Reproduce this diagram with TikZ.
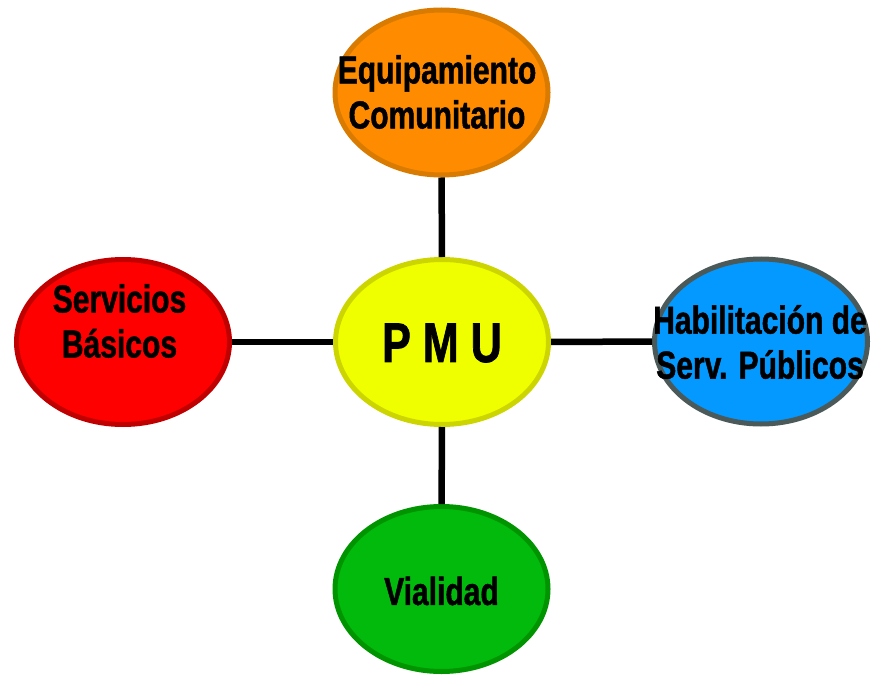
\documentclass[tikz,border=0pt]{standalone}
\usepackage{fontspec}
\setmainfont{Liberation Sans}[FakeStretch=0.77, BoldFeatures={FakeBold=1.2}]
\usetikzlibrary{shapes.geometric}
\definecolor{orfill}{HTML}{FF8C00}
\definecolor{ordraw}{HTML}{D97B00}
\definecolor{rdfill}{HTML}{FF0000}
\definecolor{rddraw}{HTML}{C00000}
\definecolor{blfill}{HTML}{0399FE}
\definecolor{bldraw}{HTML}{4B5959}
\definecolor{gnfill}{HTML}{02BA0C}
\definecolor{gndraw}{HTML}{009500}
\definecolor{ylfill}{HTML}{F0FF00}
\definecolor{yldraw}{HTML}{CCD500}
\tikzset{
  bubble/.style={ellipse, line width=5pt, minimum width=213pt, minimum height=165pt, inner sep=0pt},
  lbl/.style={font=\bfseries\fontsize{39}{45}\selectfont, align=center, inner sep=0pt},
  conn/.style={line width=6.5pt, black}
}
\begin{document}
\begin{tikzpicture}[x=1pt,y=-1pt]
\useasboundingbox (0,0) rectangle (877,676);
\node[bubble, fill=orfill, draw=ordraw] (eq) at (441.5,92.5) {};
\node[bubble, fill=rdfill, draw=rddraw] (sb) at (123,342) {};
\node[bubble, fill=ylfill, draw=yldraw] (pmu) at (442,342) {};
\node[bubble, fill=blfill, draw=bldraw] (hs) at (761,341.5) {};
\node[bubble, fill=gnfill, draw=gndraw] (vi) at (441.5,589) {};
\draw[conn] (eq) -- (pmu);
\draw[conn] (vi) -- (pmu);
\draw[conn] (sb) -- (pmu);
\draw[conn] (hs) -- (pmu);
\node[lbl] (teq) at (437,92) {Equipamiento\\Comunitario};
\node[lbl] (tsb) at (119.5,321) {Servicios\\Básicos};
\node[lbl] (ths) at (760,342) {Habilitación de\\Serv. Públicos};
\node[lbl] (tvi) at (441.5,591) {Vialidad};
\node[lbl, font=\bfseries\fontsize{56}{60}\selectfont] (tpmu) at (442,343) {P M U};
\end{tikzpicture}
\end{document}
